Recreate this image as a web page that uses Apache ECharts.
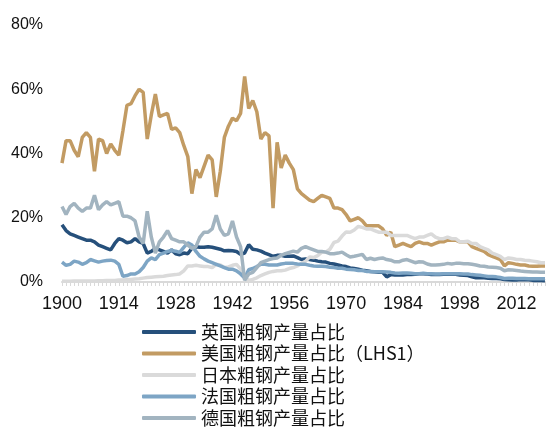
<!DOCTYPE html>
<html>
<head>
<meta charset="utf-8">
<script src="https://cdn.jsdelivr.net/npm/echarts@6/dist/echarts.min.js"></script>
<style>
  html, body { margin: 0; padding: 0; background: #fff; }
  #main { width: 553px; height: 430px; }
</style>
</head>
<body>
<div id="main"></div>
<script>
const years = []
for (let y = 1900; y <= 2019; y++) years.push(String(y))

const names = ['英国粗钢产量占比', '美国粗钢产量占比（LHS1）', '日本粗钢产量占比', '法国粗钢产量占比', '德国粗钢产量占比']
const colors = ['#26507b', '#c29b63', '#dadada', '#7da5c5', '#a2b4c0']

// 1900-2019, % of world crude steel output
const uk = [
  17.8, 16, 15, 14.5, 14, 13.5, 13, 13, 12.5, 11.5,
  11, 10.5, 10, 12, 13.5, 13, 12.2, 12.5, 13.5, 12.5,
  12, 9, 9.5, 10.5, 10, 9.5, 9, 10, 8.8, 8.5,
  9, 8.8, 10.5, 11, 10.8, 10.8, 11, 10.8, 10.5, 10.2,
  9.7, 9.8, 9.7, 9.5, 8.6, 9, 11.6, 10.2, 10, 9.6,
  9, 8.5, 8, 8.3, 8.3, 8, 8, 8.1, 7.6, 7,
  7.2, 7, 6.8, 6.5, 6.3, 6.2, 5.8, 5.6, 5.3, 5,
  4.8, 4.4, 4.2, 4, 3.7, 3.5, 3.3, 3.2, 3, 3,
  1.6, 2.3, 2.2, 2.2, 2.2, 2.3, 2.3, 2.4, 2.6, 2.6,
  2.5, 2.3, 2.3, 2.3, 2.4, 2.4, 2.4, 2.4, 2.2, 2.1,
  2, 1.6, 1.3, 1.3, 1.3, 1.2, 1.1, 1.1, 1, 0.8,
  0.7, 0.6, 0.6, 0.8, 0.7, 0.7, 0.5, 0.5, 0.5, 0.4
]
const us = [
  37, 44, 44, 41, 39, 45, 46.5, 45, 34.5, 44.5,
  44, 40, 43, 41, 39.5, 47, 55, 55.5, 58, 60,
  59, 44.5, 52, 58.5, 51.5, 52, 52.5, 47.5, 48, 46.5,
  42.5, 39, 27.5, 35, 32.5, 36, 39.5, 38, 26.5, 34.5,
  45, 48.5, 51, 50.2, 52.5, 64, 54, 56.5, 53, 44.5,
  46.5, 45.5, 23, 43.5, 35.5, 39.5, 37, 35, 29, 27.5,
  26.5, 25.5, 25, 26, 27, 26.5, 26, 23, 23, 22.5,
  21, 19, 19.5, 20, 19, 17.5, 17.5, 17.5, 17.5, 16.5,
  14.5, 15.5, 11, 11.5, 12, 11.5, 11, 12, 12.5, 12,
  12, 11.5, 12, 12.5, 12.5, 13, 13, 13, 12.5, 12.5,
  12.5, 11, 10.5, 10, 9.5, 8.5, 8, 7.5, 7, 5,
  6, 5.8, 5.5, 5.3, 5.3, 5, 4.9, 4.9, 5, 5
]
const japan = [
  0.2, 0.2, 0.2, 0.3, 0.3, 0.3, 0.3, 0.3, 0.3, 0.4,
  0.4, 0.5, 0.5, 0.5, 0.6, 0.6, 0.7, 0.8, 0.9, 1,
  1.2, 1.4, 1.5, 1.6, 1.7, 1.8, 2, 2.2, 2.3, 2.5,
  3.5, 5, 5, 5.2, 5, 4.8, 4.8, 4.5, 5.5, 5.3,
  4.5, 4.7, 5.2, 5.5, 4, 1.5, 0.5, 0.8, 1.3, 2,
  2.5, 3, 3.3, 3.5, 3.5, 3.7, 4.2, 4.5, 5, 5.8,
  6.4, 7.8, 7.6, 8.2, 9.3, 9.3, 10.2, 12.3, 12.7, 14.3,
  15.6, 15.5, 16.2, 17.3, 17, 16.5, 16.5, 16, 15.5, 15.5,
  15.5, 14.5, 14.5, 14.5, 14.5, 14.5, 14, 13.5, 14, 14,
  14.5, 15, 14, 13.5, 13.5, 14, 13.5, 13.5, 12.5, 12.5,
  12.7, 12, 12, 11, 10.5, 10, 9, 8.5, 8, 7,
  7.5, 7.3, 7, 7, 6.8, 6.7, 6.5, 6.3, 6, 6
]
const france = [
  6.2, 5.2, 5.5, 6.5, 6.2, 5.5, 6, 7, 6.6, 6.2,
  6.5, 6.7, 6.8, 6.5, 5.5, 1.8, 2, 2.5, 2.5, 3.2,
  4.5, 6.5, 7.5, 7, 8.5, 9, 9.5, 9.8, 9.6, 9.2,
  10.8, 12.2, 11.5, 9.5, 8, 7.2, 6.5, 6, 5.5, 5,
  4.5, 4, 4, 3.5, 2.5, 1.2, 3.8, 4.2, 4.8, 5.5,
  5.5, 5.3, 5.3, 5.3, 5.6, 5.8, 5.8, 5.8, 5.6, 5.5,
  5.5, 5.2, 5, 4.9, 4.9, 4.8, 4.6, 4.5, 4.3, 4.3,
  4, 3.9, 3.8, 3.6, 3.6, 3.3, 3.3, 3.2, 3.2, 3.2,
  3.1, 3, 2.8, 2.7, 2.8, 2.8, 2.7, 2.6, 2.6, 2.7,
  2.6, 2.6, 2.5, 2.5, 2.6, 2.6, 2.6, 2.6, 2.6, 2.5,
  2.5, 2.3, 2.2, 2.1, 1.9, 1.7, 1.7, 1.6, 1.4, 1.1,
  1.2, 1.2, 1.1, 1.1, 1.1, 1, 1, 1, 1, 1
]
const germany = [
  23.5, 21, 23.5, 24.5, 23, 22, 23, 23, 27, 22.5,
  24, 25, 24, 24.5, 25, 20.5, 20.5, 20, 19, 14,
  12, 22, 14, 9, 12.5, 14, 16, 13.5, 13, 12.5,
  12.5, 11.5, 10.5, 11, 14, 15.5, 15.5, 16.5, 20.8, 16.5,
  14.5, 15, 19, 14, 11, 0.5, 2.5, 3, 4.5, 6,
  6.5, 7, 7.3, 7.5, 8.3, 8.8, 9.2, 9.6, 9.3, 10.5,
  11, 10.5, 10, 9.5, 9.5, 9.3, 8.8, 8.8, 9, 9.3,
  8.5, 7.8, 8, 8.3, 8.6, 7, 7.4, 7, 7.3, 7.5,
  7, 6.8, 6.3, 6.3, 6.8, 7, 6.5, 6, 6.3, 6.2,
  5.6, 5.3, 5.3, 5.4, 5.5, 5.8, 5.6, 5.8, 5.8, 5.7,
  5.7, 5.5, 5.3, 5, 4.9, 4.7, 4.6, 4.5, 4.3, 3.5,
  3.8, 3.7, 3.6, 3.4, 3.3, 3.2, 3.1, 3.1, 3, 3
]
const seriesData = [uk, us, japan, france, germany]

const chart = echarts.init(document.getElementById('main'))

chart.setOption({
  animation: false,
  grid: { left: 62, right: 8, top: 25, bottom: 148 },
  legend: {
    orient: 'vertical',
    left: 142,
    top: 323,
    padding: 0,
    itemWidth: 54,
    itemHeight: 4,
    itemGap: 3.5,
    itemTextGap: 6,
    icon: 'roundRect',
    data: names,
    textStyle: { fontSize: 18, lineHeight: 18, color: '#111', fontFamily: 'Noto Sans CJK SC' }
  },
  xAxis: {
    type: 'category',
    data: years,
    boundaryGap: false,
    axisLine: { lineStyle: { color: '#d9d9d9', width: 2 } },
    axisTick: { interval: 0, length: 4, lineStyle: { color: '#d9d9d9' } },
    axisLabel: { interval: 13, fontSize: 18, color: '#111', margin: 13, fontFamily: 'Liberation Sans' }
  },
  yAxis: {
    type: 'value',
    min: 0,
    max: 80,
    interval: 20,
    axisLine: { show: false },
    axisTick: { show: false },
    splitLine: { show: false },
    axisLabel: { formatter: '{value}%', fontSize: 16, color: '#111', margin: 19, fontFamily: 'Liberation Sans' }
  },
  series: seriesData.map((d, i) => ({
    name: names[i],
    type: 'line',
    data: d,
    showSymbol: false,
    color: colors[i],
    lineStyle: { width: 3.5, color: colors[i] }
  }))
})
</script>
</body>
</html>
